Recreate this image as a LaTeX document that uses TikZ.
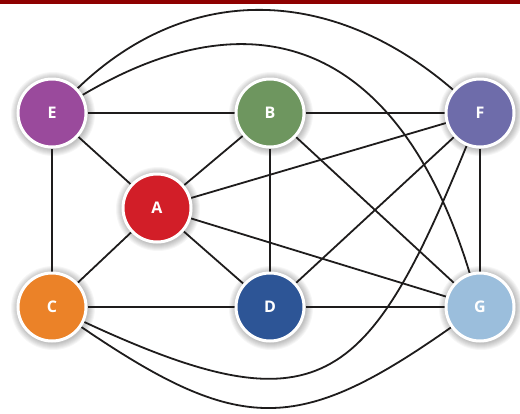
\documentclass[tikz,border=0pt]{standalone}
\usepackage{fontspec}
\setmainfont{Open Sans}
\usetikzlibrary{backgrounds}
\pgfdeclarelayer{bglayer}
\pgfdeclarelayer{glowlayer}
\pgfdeclarelayer{edgelayer}
\pgfsetlayers{bglayer,glowlayer,edgelayer,main}
\definecolor{barred}{HTML}{8E0000}
\definecolor{cE}{HTML}{9A4A9C}
\definecolor{cB}{HTML}{6E965F}
\definecolor{cF}{HTML}{6E6CAA}
\definecolor{cA}{HTML}{D21E28}
\definecolor{cC}{HTML}{EB8228}
\definecolor{cD}{HTML}{2D5596}
\definecolor{cG}{HTML}{9BBEDC}
\definecolor{edgecol}{HTML}{1E1C1C}
\tikzset{
  vtx/.style={circle, draw=white, line width=3pt, minimum size=68pt, inner sep=0pt,
    text=white, font=\fontsize{16}{18}\selectfont\bfseries},
  link/.style={draw=edgecol, line width=1.8pt},
  glowring/.style={fill=black, opacity=0.035}
}
\newcommand{\myglow}[1]{%
  \begin{pgfonlayer}{glowlayer}
  \foreach \r in {36,37,38,39,40,41,42}{\fill[glowring] ([xshift=1pt,yshift=-1pt]#1.center) circle (\r pt);}
  \end{pgfonlayer}}
\begin{document}
\begin{tikzpicture}[x=1pt,y=-1pt]
\useasboundingbox (0,0) rectangle (520,413);
\begin{pgfonlayer}{bglayer}
\fill[white] (0,0) rectangle (520,413);
\fill[barred] (0,0) rectangle (520,4);
\end{pgfonlayer}

\node[vtx, fill=cE] (E) at (52,113) {E};
\node[vtx, fill=cB] (B) at (270,113) {B};
\node[vtx, fill=cF] (F) at (480,113) {F};
\node[vtx, fill=cA] (A) at (157,208) {A};
\node[vtx, fill=cC] (C) at (52,307) {C};
\node[vtx, fill=cD] (D) at (270,307) {D};
\node[vtx, fill=cG] (G) at (480,307) {G};

\foreach \n in {E,B,F,A,C,D,G}{\myglow{\n}}

\begin{pgfonlayer}{edgelayer}
\draw[link] (E) -- (B);
\draw[link] (B) -- (F);
\draw[link] (E) -- (A);
\draw[link] (E) -- (C);
\draw[link] (A) -- (B);
\draw[link] (A) -- (F);
\draw[link] (A) -- (C);
\draw[link] (A) -- (D);
\draw[link] (A) -- (G);
\draw[link] (B) -- (D);
\draw[link] (B) -- (G);
\draw[link] (F) -- (D);
\draw[link] (F) -- (G);
\draw[link] (C) -- (D);
\draw[link] (D) -- (G);
\draw[link] (E) .. controls (190,-20) and (334,-13) .. (F);
\draw[link] (E) .. controls (274,-18) and (406,64) .. (G);
\draw[link] (C) .. controls (319,431) and (367,389) .. (F);
\draw[link] (C) .. controls (240,435) and (298,435) .. (G);
\end{pgfonlayer}
\end{tikzpicture}
\end{document}
